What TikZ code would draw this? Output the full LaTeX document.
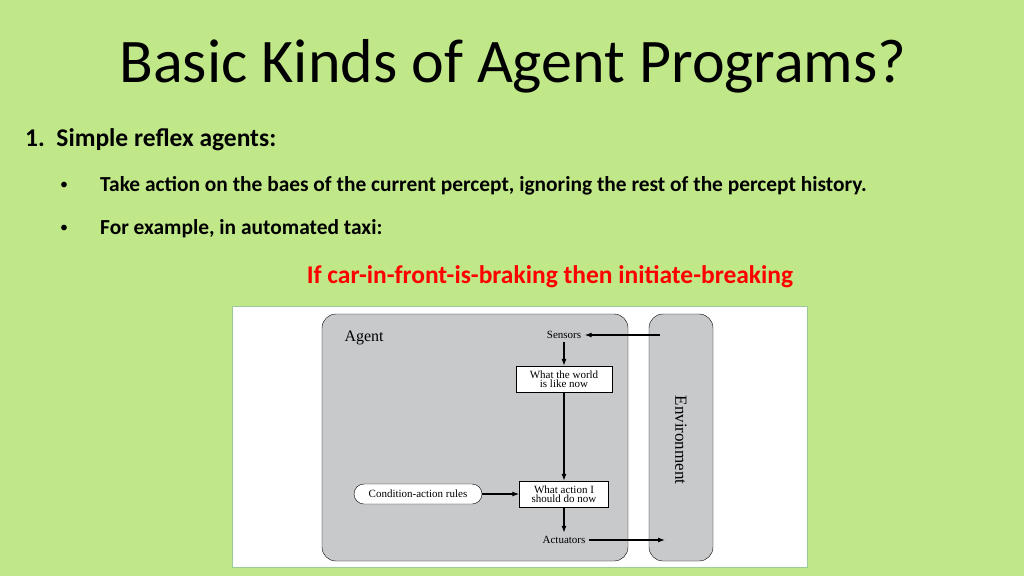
\documentclass[tikz,border=0pt]{standalone}
\usepackage{fontspec}
\setmainfont{Carlito}
\newfontfamily\figfont{Liberation Serif}
\usetikzlibrary{positioning,arrows.meta}
\definecolor{slidegreen}{HTML}{C1E888}
\definecolor{agentgray}{HTML}{C8C9CB}
\tikzset{
  box/.style={draw,fill=white,align=center,font=\figfont\fontsize{11}{10}\selectfont,inner sep=2pt},
  plain/.style={font=\figfont\fontsize{11}{10}\selectfont},
  flow/.style={-{Latex[length=7pt,width=5pt]},line width=1.1pt}
}
\begin{document}
\begin{tikzpicture}[x=1pt,y=-1pt]
    \useasboundingbox (0,0) rectangle (1024,576);
    \fill[slidegreen] (0,0) rectangle (1024,576);
    % text
    \node (title) at (513,66) {\fontsize{62}{62}\selectfont Basic Kinds of Agent Programs?};
    \node[anchor=west,inner sep=0pt] (head) at (25,140) {\fontsize{25.5}{26}\selectfont\bfseries 1.\ \ Simple reflex agents:};
    \node (b1) at (64,186) {\fontsize{16}{16}\selectfont\textbullet};
    \node[anchor=west,inner sep=0pt] (t1) at (100,186) {\fontsize{21.4}{21}\selectfont\bfseries Take action on the baes of the current percept, ignoring the rest of the percept history.};
    \node (b2) at (64,229) {\fontsize{16}{16}\selectfont\textbullet};
    \node[anchor=west,inner sep=0pt] (t2) at (100,229) {\fontsize{21.4}{21}\selectfont\bfseries For example, in automated taxi:};
    \node[text=red] (rule) at (550,277) {\fontsize{25.5}{26}\selectfont\bfseries If car-in-front-is-braking then initiate-breaking};
    % figure
    \draw[fill=white,draw=green!50!black!40] (232,306) rectangle (807,567);
    \draw[fill=agentgray,rounded corners=14pt] (322,314) rectangle (628,561);
    \draw[fill=agentgray,rounded corners=14pt] (649,314) rectangle (713,561);
    \node[plain,anchor=west] (agent) at (341,338) {\fontsize{16}{16}\selectfont Agent};
    \node[plain,rotate=-90] (env) at (681,440) {\fontsize{17}{17}\selectfont Environment};
    \node[plain] (sensors) at (564,335) {Sensors};
    \node[box,minimum width=96pt,minimum height=26pt] (world) at (564,379) {What the world\\[-1pt]is like now};
    \node[box,minimum width=89pt,minimum height=26pt] (action) at (564,494) {What action I\\[-1pt]should do now};
    \node[box,rounded corners=10pt,minimum width=128pt,minimum height=20pt] (rules) at (418,494) {Condition-action rules};
    \node[plain] (actuators) at (564,540) {Actuators};
    \coordinate (envin) at (660,335);
    \coordinate (envout) at (665,540);
    \draw[flow] (envin) -- (sensors);
    \draw[flow] (sensors) -- (world);
    \draw[flow] (world) -- (action);
    \draw[flow] (rules) -- (action);
    \draw[flow] (action) -- (actuators);
    \draw[flow] (actuators) -- (envout);
\end{tikzpicture}
\end{document}
